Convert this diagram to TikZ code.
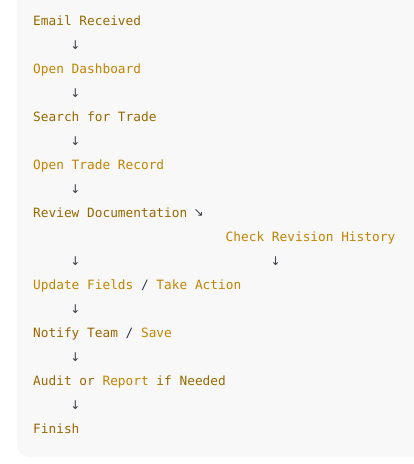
\documentclass[tikz,border=0pt]{standalone}
\usepackage{fontspec}
\setmonofont{DejaVu Sans Mono}
\newfontfamily\arrowfont{DejaVu Sans}
\definecolor{dk}{HTML}{986801}
\definecolor{lt}{HTML}{C18401}
\definecolor{tx}{HTML}{383A42}
\definecolor{bg}{HTML}{F8F8F8}
\begin{document}
\begin{tikzpicture}[x=1pt,y=-1pt,
  codeline/.style={anchor=base west, inner sep=0pt, text=tx,
    font=\ttfamily\fontsize{12.8}{14}\selectfont},
  arrowglyph/.style={anchor=center, inner sep=0pt, text=tx,
    font=\arrowfont\fontsize{12}{14}\selectfont}]
\useasboundingbox (0,0) rectangle (414,464);
\fill[white] (0,0) rectangle (414,464);
\fill[bg, rounded corners=12pt] (17,-30) rectangle (450,457);
\node[codeline] (l0) at (33,25.5) {\textcolor{dk}{Email Received}};
\node[arrowglyph] (a0) at (75.4,45) {↓};
\node[codeline] (l1) at (33,73.5) {\textcolor{lt}{Open Dashboard}};
\node[arrowglyph] (a1) at (75.4,93) {↓};
\node[codeline] (l2) at (33,121.5) {\textcolor{dk}{Search for Trade}};
\node[arrowglyph] (a2) at (75.4,141) {↓};
\node[codeline] (l3) at (33,169.5) {\textcolor{lt}{Open Trade Record}};
\node[arrowglyph] (a3) at (75.4,189) {↓};
\node[codeline] (l4) at (33,217.5) {\textcolor{dk}{Review Documentation}};
\node[arrowglyph] (d4) at (198.6,213) {↘};
\node[codeline] (l5) at (225.5,241.5) {\textcolor{lt}{Check Revision History}};
\node[arrowglyph] (a4) at (75.4,261) {↓};
\node[arrowglyph] (a5) at (275.6,261) {↓};
\node[codeline] (l6) at (33,289.5) {\textcolor{lt}{Update Fields} / \textcolor{lt}{Take Action}};
\node[arrowglyph] (a6) at (75.4,309) {↓};
\node[codeline] (l7) at (33,337.5) {\textcolor{dk}{Notify Team} / \textcolor{lt}{Save}};
\node[arrowglyph] (a7) at (75.4,357) {↓};
\node[codeline] (l8) at (33,385.5) {\textcolor{dk}{Audit or} \textcolor{lt}{Report} \textcolor{dk}{if Needed}};
\node[arrowglyph] (a8) at (75.4,405) {↓};
\node[codeline] (l9) at (33,433.5) {\textcolor{dk}{Finish}};
\end{tikzpicture}
\end{document}
